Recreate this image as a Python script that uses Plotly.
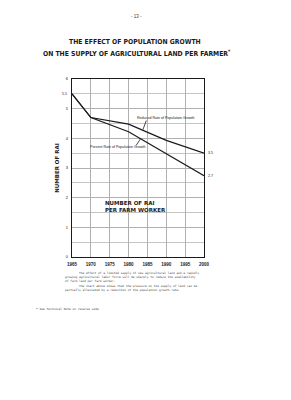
import plotly.graph_objects as go

years = [1965, 1970, 1980, 1990, 2000]
reduced_rate = [5.5, 4.7, 4.48, 3.93, 3.5]
present_rate = [5.5, 4.7, 4.22, 3.48, 2.74]
x_ticks = [1965, 1970, 1975, 1980, 1985, 1990, 1995, 2000]
y_ticks = [0, 1, 2, 3, 4, 5, 6]

page_no = "- 13 -"
title1 = "THE EFFECT OF POPULATION GROWTH"
title2 = "ON THE SUPPLY OF AGRICULTURAL LAND PER FARMER<sup>*</sup>"
note1 = ["        The effect of a limited supply of new agricultural land and a rapidly",
         "growing agricultural labor force will be sharply to reduce the availability",
         "of farm land per farm worker."]
note2 = ["        The chart above shows that the pressure on the supply of land can be",
         "partially alleviated by a reduction of the population growth rate."]
footnote = "* See Technical Note on reverse side"

ink = "#1a1a1a"
W, H = 291, 400
L, R, T, B = 72, 87, 79, 143
PW, PH = W - L - R, H - T - B


def px(xp, yp):
    """figure pixel -> paper (plot-area) coordinates"""
    return (xp - L) / PW, 1 - (yp - T) / PH


fig = go.Figure()
fig.add_trace(go.Scatter(x=years, y=reduced_rate, mode="lines",
                         line=dict(color=ink, width=1.2), showlegend=False, hoverinfo="skip"))
fig.add_trace(go.Scatter(x=years, y=present_rate, mode="lines",
                         line=dict(color=ink, width=1.2), showlegend=False, hoverinfo="skip"))

fig.update_layout(
    width=W, height=H, margin=dict(l=L, r=R, t=T, b=B),
    paper_bgcolor="white", plot_bgcolor="white",
    font=dict(family="Liberation Sans, Arial, sans-serif", color=ink),
)
fig.update_xaxes(range=[1965, 2000], tickvals=x_ticks, ticktext=[f"<b>{v}</b>" for v in x_ticks],
                 tickfont=dict(size=4.5, color=ink), showgrid=True, gridcolor="#b0b0b0", gridwidth=1,
                 showline=True, linecolor=ink, linewidth=1.3, mirror=True, ticks="", zeroline=False,
                 ticklabelstandoff=2)
fig.update_yaxes(range=[0, 6], tickvals=y_ticks,
                 tickfont=dict(size=4, color=ink), showgrid=True, gridcolor="#b0b0b0", gridwidth=1,
                 minor=dict(dtick=0.5, showgrid=True, gridcolor="#c4c4c4", gridwidth=1),
                 showline=True, linecolor=ink, linewidth=1.3, mirror=True, ticks="", zeroline=False,
                 ticklabelstandoff=2,
                 title=dict(text="<b>NUMBER OF RAI</b>", font=dict(size=5.5, family="DejaVu Sans", color=ink),
                            standoff=5))

anns = []


def paper_text(text, xp, yp, font, xanchor="center", align="center"):
    xx, yy = px(xp, yp)
    anns.append(dict(text=text, x=xx, y=yy, xref="paper", yref="paper", xanchor=xanchor,
                     yanchor="middle", align=align, showarrow=False, font=font))


paper_text(page_no, 136, 16, dict(size=4.5, color="#333"))
ttl_font = dict(size=6.8, family="Liberation Sans Narrow, Arial Narrow, DejaVu Sans Condensed, sans-serif",
                color=ink)
paper_text(f"<b>{title1}</b>", 135, 42, ttl_font)
paper_text(f"<b>{title2}</b>", 137, 53, ttl_font)

small = dict(size=3.6, color=ink)
anns.append(dict(text="Reduced Rate of Population Growth", x=1981.8, y=4.68, xref="x", yref="y",
                 xanchor="left", showarrow=False, font=small))
anns.append(dict(text="Present Rate of Population Growth", x=1969.2, y=3.7, xref="x", yref="y",
                 xanchor="left", showarrow=False, font=small))
anns.append(dict(text=f"{reduced_rate[0]}", x=1965, y=reduced_rate[0], xref="x", yref="y", xanchor="right",
                 xshift=-3, showarrow=False, font=small))
anns.append(dict(text=f"{reduced_rate[-1]:.1f}", x=2000, y=reduced_rate[-1], xref="x", yref="y", xanchor="left",
                 xshift=2, showarrow=False, font=small))
anns.append(dict(text=f"{present_rate[-1]:.1f}", x=2000, y=present_rate[-1], xref="x", yref="y", xanchor="left",
                 xshift=2, showarrow=False, font=small))
anns.append(dict(text="<b>NUMBER OF RAI<br>PER FARM WORKER</b>", x=1973.3, y=1.7, xref="x", yref="y",
                 xanchor="left", align="left", showarrow=False,
                 font=dict(size=5.5, family="DejaVu Sans", color=ink)))

fig.add_shape(type="line", x0=1984.7, y0=4.6, x1=1983.8, y1=4.29, xref="x", yref="y",
              line=dict(color=ink, width=0.8))
fig.add_shape(type="line", x0=1982.0, y0=3.76, x1=1983.2, y1=3.99, xref="x", yref="y",
              line=dict(color=ink, width=0.8))

tiny = dict(size=2.9, color="#333", family="DejaVu Sans Mono, monospace")
paper_text("<br>".join(note1), 63, 276.5, tiny, xanchor="left", align="left")
paper_text("<br>".join(note2), 63, 287.5, tiny, xanchor="left", align="left")
paper_text(footnote, 34, 309, tiny, xanchor="left")

fig.update_layout(annotations=anns)
fig.write_html("out.html")
